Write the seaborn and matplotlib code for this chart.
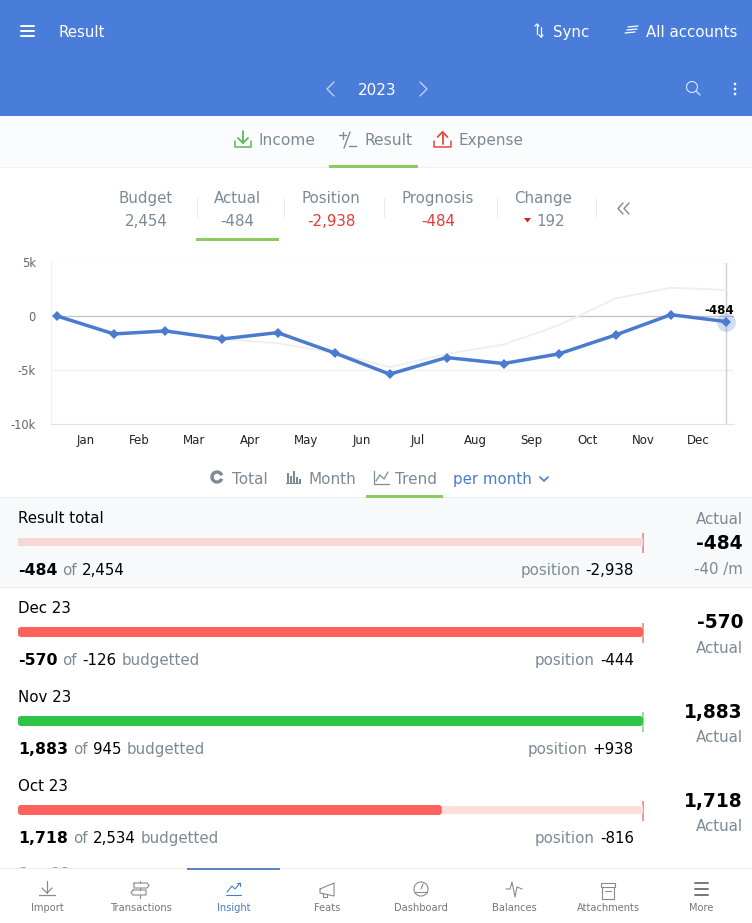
import numpy as np
import pandas as pd
import matplotlib
matplotlib.use('Agg')
import matplotlib.pyplot as plt
import matplotlib.dates as mdates
from matplotlib.patches import Rectangle, FancyBboxPatch, Circle, Arc, Polygon
from matplotlib.ticker import FixedLocator, FixedFormatter, NullFormatter
import seaborn as sns

# Chart data
point_dates = ['2023-01-01', '2023-02-01', '2023-03-01', '2023-04-01', '2023-05-01', '2023-06-01', '2023-07-01',
               '2023-08-01', '2023-09-01', '2023-10-01', '2023-11-01', '2023-12-01', '2023-12-31']
actual = [30, -1636, -1358, -2100, -1512, -3395, -5370, -3827, -4383, -3488, -1728, 154, -484]
budget = [30, -1600, -1400, -2100, -2500, -3400, -4722, -3488, -2623, -833, 1667, 2654, 2454]
months = ['Jan', 'Feb', 'Mar', 'Apr', 'May', 'Jun', 'Jul', 'Aug', 'Sep', 'Oct', 'Nov', 'Dec']
ytick_vals = [5000, 0, -5000, -10000]
ytick_labels = ['5k', '0', '-5k', '-10k']

# Summary strip
kpi_names = ['Budget', 'Actual', 'Position', 'Prognosis', 'Change']
kpi_values = ['2,454', '-484', '-2,938', '-484', '192']

# Rows below the chart
row_names = ['Result total', 'Dec 23', 'Nov 23', 'Oct 23']
row_actual = ['-484', '-570', '1,883', '1,718']
row_budget = ['2,454', '-126', '945', '2,534']
row_position = ['-2,938', '-444', '+938', '-816']
row_fill = [0, 100, 100, 67.8]

nav_labels = ['Import', 'Transactions', 'Insight', 'Feats', 'Dashboard', 'Balances', 'Attachments', 'More']

W, H = 752, 923
BLUE = '#4a7dd9'
LINE = '#4a7bcf'
GREY = '#7c8a94'
RED = '#e53935'
GREEN = '#8ccb5e'

sns.set_theme(style='white')
plt.rcParams['font.family'] = ['DejaVu Sans']

fig = plt.figure(figsize=(W / 100, H / 100), dpi=100, facecolor='white')

def px_axes(x0, y0, x1, y1, **kw):
    return fig.add_axes([x0 / W, 1 - y1 / H, (x1 - x0) / W, (y1 - y0) / H], **kw)

# full size axes in pixels for the app chrome
ui = px_axes(0, 0, W, H, zorder=0)
ui.set_xlim(0, W)
ui.set_ylim(H, 0)
ui.axis('off')
top = px_axes(0, 0, W, H, zorder=5)
top.set_xlim(0, W)
top.set_ylim(H, 0)
top.axis('off')
top.patch.set_alpha(0)

def box(x0, y0, x1, y1, color, ax=ui, z=1):
    ax.add_patch(Rectangle((x0, y0), x1 - x0, y1 - y0, facecolor=color, edgecolor='none', zorder=z))

def txt(x, y, s, size=10.8, color='black', ha='left', weight='normal', ax=ui):
    return ax.text(x, y, s, fontsize=size, color=color, ha=ha, va='baseline', fontweight=weight, zorder=4)

def pl(xs, ys, color, lw=1.0, ax=ui):
    ax.plot(xs, ys, color=color, lw=lw, solid_capstyle='round', solid_joinstyle='round', zorder=3)

def seq(x, y, parts, ha='left', gap=5):
    # parts are (text, colour, weight); measured so they sit next to each other
    rend = fig.canvas.get_renderer()
    for s, c, w in (parts if ha == 'left' else parts[::-1]):
        t = txt(x, y, s, size=11.3 if w == 'bold' else 10.8, color=c, weight=w, ha=ha)
        width = t.get_window_extent(rend).width
        x = x + width + gap if ha == 'left' else x - width - gap

# header
box(0, 0, W, 116, BLUE)
for y in (26, 31, 36):
    pl([21, 34], [y, y], 'white', 1.4)
txt(59, 37, 'Result', color='white')
pl([537, 537], [24, 34], 'white', 0.9)
pl([535, 537, 539], [26, 24, 26], 'white', 0.9)
pl([541, 541], [27, 37], 'white', 0.9)
pl([539, 541, 543], [35, 37, 35], 'white', 0.9)
txt(553, 37, 'Sync', color='white')
for y, a, b in ((27, 628, 638), (30, 627, 637), (33, 625, 635)):
    pl([a, b], [y, y - 1], 'white', 0.9)
txt(646, 37, 'All accounts', color='white')
pl([334, 327, 334], [82, 89, 96], '#c9d8f3', 0.9)
txt(377, 95, '2023', size=11, color='white', ha='center')
pl([420, 427, 420], [82, 89, 96], '#c9d8f3', 0.9)
ui.add_patch(Circle((692, 87), 5.5, fill=False, ec='#dbe5f7', lw=0.8, zorder=3))
pl([696, 700], [91, 95], '#dbe5f7', 0.9)
for y in (84, 89, 94):
    ui.add_patch(Circle((735, y), 1.3, fc='white', ec='none', zorder=3))

# tabs
box(0, 116, W, 167, '#fbfcfe')
box(0, 167, W, 168, '#eef0f2')
box(329, 165, 418, 167.5, GREEN, z=2)
pl([235, 235, 251, 251], [141, 147, 147, 141], '#5cb85c', 1.1)
pl([243, 243], [131, 143], '#5cb85c', 1.3)
pl([238, 243, 248], [138, 143, 138], '#5cb85c', 1.3)
txt(259, 145, 'Income', size=11.2, color=GREY)
pl([339, 346], [135, 135], GREY, 1)
pl([342.5, 342.5], [131.5, 138.5], GREY, 1)
pl([344, 350], [148, 132], GREY, 1)
pl([349, 356], [146, 146], GREY, 1)
txt(364, 145, 'Result', size=11.2, color=GREY)
pl([434, 434, 451, 451], [141, 147, 147, 141], '#e5483f', 1.1)
pl([442.5, 442.5], [144, 132], '#e5483f', 1.3)
pl([437.5, 442.5, 447.5], [137, 132, 137], '#e5483f', 1.3)
txt(459, 145, 'Expense', size=11, color=GREY)

# summary strip
kpi_x = [146, 237, 331, 438, 543]
kpi_colors = [GREY, GREY, RED, RED, GREY]
for name, val, x, c in zip(kpi_names, kpi_values, kpi_x, kpi_colors):
    txt(x, 203, name, color=GREY, ha='center')
    txt(x + (8 if name == 'Change' else 0), 226, val, color=c, ha='center')
for x in (196.5, 284, 384, 497, 596):
    box(x, 198, x + 1, 218, '#e8eaec')
box(196, 238, 279, 240.5, GREEN)
ui.add_patch(Polygon([[524, 218], [531, 218], [527.5, 222.5]], fc='#e0201c', ec='none', zorder=3))
pl([623, 618, 623], [203, 208.5, 214], GREY, 1)
pl([629, 624, 629], [203, 208.5, 214], GREY, 1)

# chart
df = pd.DataFrame({'date': pd.to_datetime(point_dates), 'actual': actual, 'budget': budget})
ax = px_axes(51, 262.5, 734, 424, zorder=2)
ax.patch.set_alpha(0)
sns.lineplot(data=df, x='date', y='budget', color='#efefef', lw=1.4, ax=ax, zorder=2)
sns.lineplot(data=df, x='date', y='actual', color=LINE, lw=2.5, marker='D', markersize=5.5,
             markeredgewidth=0, ax=ax, zorder=4)
last = df.iloc[-1]
ax.scatter([last['date']], [last['actual']], s=185, color=LINE, alpha=0.25, linewidth=0, zorder=3, clip_on=False)
ax.annotate(str(last['actual']), (last['date'], last['actual']), xytext=(5.8, 3.2), textcoords='offset points',
            ha='right', va='bottom', fontsize=8.6, fontweight='bold', color='black', annotation_clip=False, zorder=6)
ax.set_xlim(df['date'].iloc[0] - pd.Timedelta(days=3.26), df['date'].iloc[-1] + pd.Timedelta(days=4.35))
ax.set_ylim(-10000, 5000)
ax.set_xlabel('')
ax.set_ylabel('')
ax.axhline(0, color='#c4c4c4', lw=1, zorder=1)
for v in (5000, -5000):
    ax.axhline(v, color='#f0f0f0', lw=1, zorder=1)
ax.axvline(df['date'].iloc[-1], color='#cfcfcf', lw=1, zorder=1)
ax.set_yticks(ytick_vals)
ax.set_yticklabels(ytick_labels, fontsize=8.3, color='#666666')
ax.tick_params(axis='y', length=0, pad=11)

nums = mdates.date2num(df['date'])
ax.xaxis.set_major_locator(FixedLocator(nums))
ax.xaxis.set_major_formatter(NullFormatter())
ax.xaxis.set_minor_locator(FixedLocator((nums[:-1] + nums[1:]) / 2))
ax.xaxis.set_minor_formatter(FixedFormatter(months))
ax.tick_params(axis='x', which='major', length=7.5, width=0.8, color='#ccd6eb')
ax.tick_params(axis='x', which='minor', length=0, pad=7.5, labelsize=8.5, labelcolor='#222222')
for side, sp in ax.spines.items():
    sp.set_visible(side in ('bottom', 'left'))
    sp.set_color('#dfe4ec' if side == 'bottom' else '#f0f0f0')
    sp.set_linewidth(0.8)

# view switch
ui.add_patch(Arc((217, 477), 10, 10, theta1=20, theta2=340, color=GREY, lw=2.4, zorder=3))
txt(232, 484, 'Total', size=11, color=GREY)
for x, h in ((287, 10), (290, 7), (293, 12), (296, 6), (299, 4)):
    box(x, 483 - h, x + 2, 483, GREY, z=3)
box(286, 483, 301, 484, GREY, z=3)
txt(309, 484, 'Month', size=11, color=GREY)
pl([374, 374, 389], [471, 484, 484], GREY, 0.9)
pl([376, 380, 384, 388], [481, 475, 479, 472], GREY, 0.9)
txt(395, 484, 'Trend', size=11, color=GREY)
txt(453, 484, 'per month', color='#4a7cc9')
pl([540, 544, 548], [477, 481, 477], '#4a7cc9', 1.2)
box(366, 495, 443, 497.5, GREEN, z=3)

# list rows
box(0, 497, W, 587, '#f8f9fb')
box(0, 497, W, 498, '#e9ecef', z=2)
box(0, 587, W, 588, '#e9ecef', z=2)

name_y = [523, 613, 702, 791]
stat_y = [575, 665, 754, 843]
bar_y = [(537, 547), (627, 637), (716, 726), (805, 815)]
tick_y = [(533, 553), (623, 643), (712, 732), (801, 821)]
fill_colors = ['#ff625c', '#ff625c', '#2dc545', '#ff625c']
track_colors = ['#f8d7d7', '#ffdedb', '#c5f0cc', '#ffdedb']
tick_colors = ['#e79a9a', '#ee9f9f', '#9ddda8', '#e79a9a']
head_y = [[524, 549, 574], [628, 653], [718, 742], [807, 831]]

for i, name in enumerate(row_names):
    txt(18, name_y[i], name)
    parts = [(row_actual[i], 'black', 'bold'), ('of', GREY, 'normal'), (row_budget[i], 'black', 'normal')]
    if i > 0:
        parts.append(('budgetted', GREY, 'normal'))
    seq(18, stat_y[i], parts)
    seq(634, stat_y[i], [('position', GREY, 'normal'), (row_position[i], 'black', 'normal')], ha='right')

    y0, y1 = bar_y[i]
    bar_ax = px_axes(18, y0, 643, y1, zorder=2)
    bar_ax.patch.set_alpha(0)
    # linewidth=0, the white theme puts a white edge on bars otherwise
    sns.barplot(x=[100], y=[name], orient='h', width=0.8, color=track_colors[i], saturation=1, linewidth=0, ax=bar_ax)
    if row_fill[i] > 0:
        n = len(bar_ax.patches)
        sns.barplot(x=[row_fill[i]], y=[name], orient='h', width=1, color=fill_colors[i], saturation=1, linewidth=0,
                    ax=bar_ax)
        # rounded ends, 3px
        fw = 625 * row_fill[i] / 100
        clip = FancyBboxPatch((18 + 3, y0 + 3), fw - 6, y1 - y0 - 6, boxstyle='round,pad=3,rounding_size=3',
                              transform=ui.transData)
        for p in bar_ax.patches[n:]:
            p.set_clip_path(clip)
    bar_ax.set_xlim(0, 100)
    bar_ax.set_ylim(0.5, -0.5)
    bar_ax.axis('off')
    box(642, tick_y[i][0], 644, tick_y[i][1], tick_colors[i], z=3)

    ys = head_y[i]
    if i == 0:
        txt(743, ys[0], 'Actual', color=GREY, ha='right')
        txt(743, ys[1], row_actual[i], size=13.4, weight='bold', ha='right')
        txt(743, ys[2], '-40 /m', color=GREY, ha='right')
    else:
        txt(743, ys[0], row_actual[i], size=13.4, weight='bold', ha='right')
        txt(743, ys[1], 'Actual', color=GREY, ha='right')

# next row is cut off by the nav bar
txt(18, 878.5, 'Sep 23', color='#999999')

# bottom nav
top.add_patch(FancyBboxPatch((0, 872), W, 60, boxstyle='round,pad=0,rounding_size=6', fc='white', ec='none',
                             mutation_aspect=1, zorder=1))
box(0, 868.5, W, 880, 'white', ax=top)
box(0, 867.5, W, 868.5, '#eeeeee', ax=top, z=2)
box(187, 868, 280, 870, '#5a85c0', ax=top, z=2)
nav_x = [47, 141, 234, 327, 421, 514, 608, 701]
for x, label in zip(nav_x, nav_labels):
    txt(x, 911, label, size=7.1, ha='center', color='#4a7cc9' if label == 'Insight' else '#777777', ax=top)

NC = '#8a8a8a'
def nav(xs, ys, color=NC, lw=0.8):
    pl(xs, ys, color, lw, ax=top)

nav([47, 47], [881, 893], lw=0.9)
nav([42, 47, 52], [888, 893, 888], lw=0.9)
nav([39, 55], [895, 895], lw=0.9)
nav([134, 147, 149, 147, 134, 134], [883, 883, 885.5, 888, 888, 883])
nav([133, 146, 146, 133, 131, 133], [890, 890, 895, 895, 892.5, 890])
nav([140, 140], [881, 883])
nav([140, 140], [888, 890])
nav([140, 140], [895, 898])
nav([227, 232, 235, 240], [892, 886, 889, 883], '#4a7cc9')
nav([237, 240, 240], [883, 883, 886], '#4a7cc9')
nav([226, 241], [895, 895], '#4a7cc9')
nav([320, 334, 334, 320, 320], [889, 883, 896, 893, 889])
nav([323, 323, 327, 327], [893, 897, 897, 894])
top.add_patch(Arc((421, 889), 14, 14, theta1=0, theta2=360, color=NC, lw=0.8, zorder=3))
nav([415, 427], [892, 892])
nav([421, 423], [889, 884])
nav([506, 510, 512, 515, 517, 522], [889, 889, 882, 897, 887, 889])
nav([601, 615, 615, 601, 601], [883, 883, 887, 887, 883])
nav([602, 602, 614, 614], [887, 899, 899, 887])
nav([605, 611], [891, 891])
for y in (883, 889, 895):
    nav([695, 708], [y, y], '#777777', 1.4)

fig.savefig('out.png', dpi=100, facecolor='white')
